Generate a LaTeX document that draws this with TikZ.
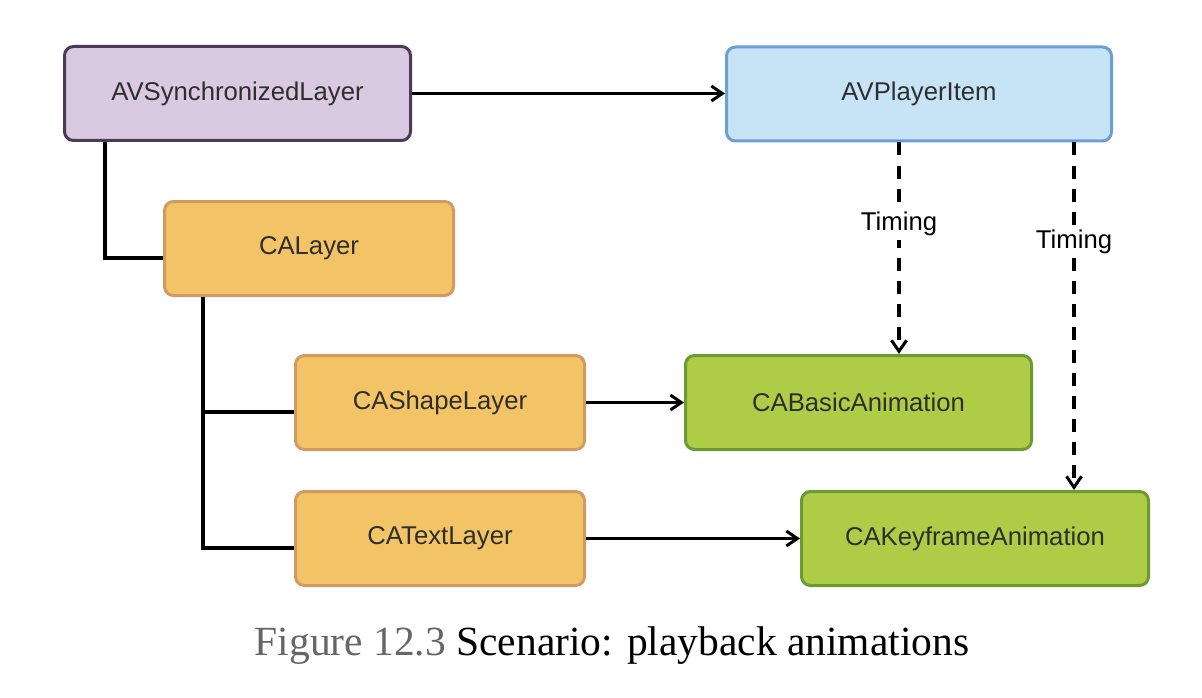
\documentclass[tikz,border=0pt]{standalone}
\usepackage{fontspec}
\setmainfont{Liberation Serif}
\setsansfont{Liberation Sans}
\usetikzlibrary{arrows.meta,calc}

\definecolor{avsfill}{HTML}{D9C9E1}
\definecolor{avsline}{HTML}{4B3B57}
\definecolor{avpfill}{HTML}{C7E4F7}
\definecolor{avpline}{HTML}{6E9FD2}
\definecolor{lyrfill}{HTML}{F3C466}
\definecolor{lyrline}{HTML}{D29A62}
\definecolor{anifill}{HTML}{AECC46}
\definecolor{aniline}{HTML}{6C9A33}
\definecolor{boxtext}{HTML}{2E2E2E}
\definecolor{capgray}{HTML}{666666}

\tikzset{
  box/.style={draw, line width=3pt, rounded corners=9pt, inner sep=0pt,
    minimum height=94pt, text=boxtext, font=\sffamily\fontsize{25.7}{30}\selectfont},
  avsbox/.style={box, fill=avsfill, draw=avsline},
  avpbox/.style={box, fill=avpfill, draw=avpline},
  lyrbox/.style={box, fill=lyrfill, draw=lyrline},
  anibox/.style={box, fill=anifill, draw=aniline},
  conn/.style={line width=3.2pt, black},
  arr/.style={conn, -{Straight Barb[length=11pt,width=15pt,line width=3pt]}},
  timing/.style={conn, dash pattern=on 13pt off 10pt,
    -{Straight Barb[length=11pt,width=15pt,line width=3pt]}},
  tlabel/.style={fill=white, inner sep=4pt, text=black,
    font=\sffamily\fontsize{25.7}{30}\selectfont},
}

\begin{document}
\begin{tikzpicture}[x=1pt,y=-1pt]
  \useasboundingbox[fill=white] (0,0) rectangle (1202,698);

  % class boxes
  \node[avsbox, minimum width=346pt] (avs) at (237.5,93.5) {AVSynchronizedLayer};
  \node[avpbox, minimum width=385pt] (avp) at (919,94) {AVPlayerItem};
  \node[lyrbox, minimum width=289pt] (cal) at (309,248.5) {CALayer};
  \node[lyrbox, minimum width=289pt] (shp) at (440,402.5) {CAShapeLayer};
  \node[anibox, minimum width=346pt] (bas) at (858.5,402.5) {CABasicAnimation};
  \node[lyrbox, minimum width=289pt] (txt) at (440,538.5) {CATextLayer};
  \node[anibox, minimum width=347pt] (key) at (975,538.5) {CAKeyframeAnimation};

  % hierarchy lines
  \draw[conn] ([xshift=42pt]avs.south west) |- ([yshift=-9.5pt]cal.west);
  \coordinate (trunk) at ([xshift=40pt]cal.south west);
  \coordinate (shpin) at ([yshift=-9.5pt]shp.west);
  \draw[conn] (trunk) |- ([yshift=-9.5pt]txt.west);
  \draw[conn] (trunk |- shpin) -- (shpin);

  % references
  \draw[arr] (avs.east) -- (avs.east -| avp.west);
  \draw[arr] (shp.east) -- (bas.west);
  \draw[arr] (txt.east) -- (key.west);

  % timing links
  \coordinate (t1) at ([xshift=-20pt]avp.south);
  \coordinate (t2) at ([xshift=155pt]avp.south);
  \draw[timing] (t1) -- (t1 |- bas.north) node[tlabel, pos=0.385] (tl1) {Timing};
  \draw[timing] (t2) -- (t2 |- key.north) node[tlabel, pos=0.285] (tl2) {Timing};

  % caption
  \node[anchor=base, font=\fontsize{41.5}{46}\selectfont, inner sep=0pt] (cap) at (612,655)
    {\textcolor{capgray}{Figure 12.3} Scenario: playback animations};
\end{tikzpicture}
\end{document}
